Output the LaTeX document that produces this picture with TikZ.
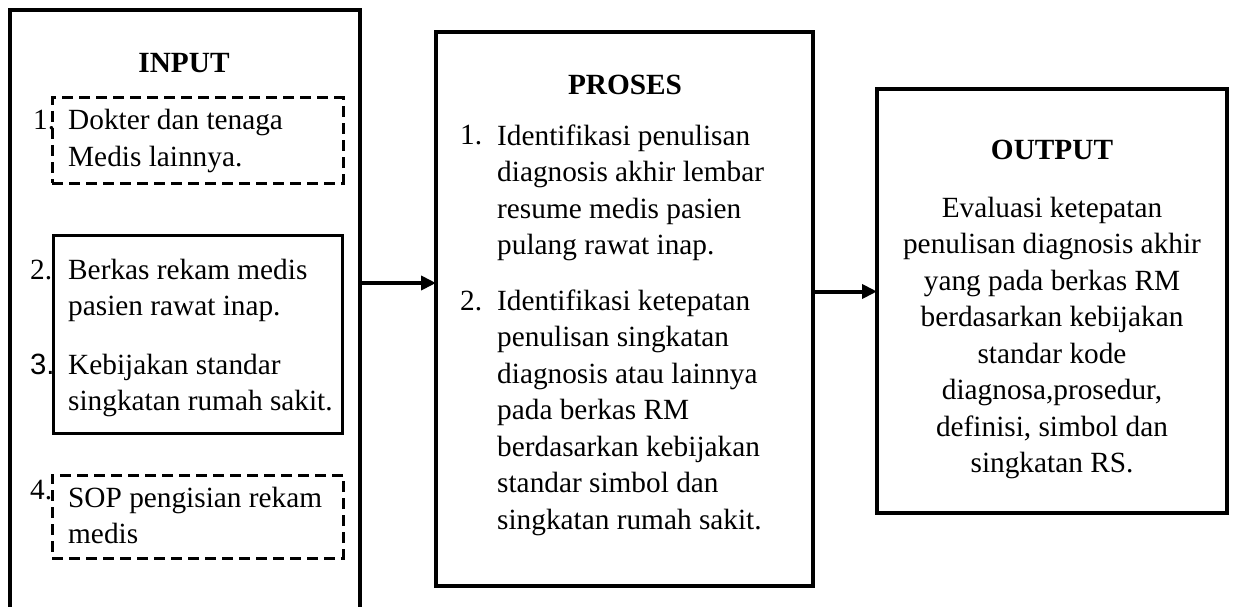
\documentclass[tikz,border=0pt]{standalone}
\usepackage{fontspec}
\setmainfont{Liberation Serif}
\newfontfamily\arialfont{Liberation Sans}
\usetikzlibrary{arrows.meta}

\begin{document}
\begin{tikzpicture}[x=1pt,y=-1pt]
    % Stili per i riquadri e i testi
    \tikzset{
        big_box/.style={
            draw=black, % Bordo visibile
            line width=3.5pt, % Bordo spesso
            inner sep=0pt,
            outer sep=0pt
        },
        dash_box/.style={
            draw=black,
            line width=3pt,
            dash pattern=on 11pt off 6pt, % Bordo tratteggiato
            inner sep=0pt,
            outer sep=0pt
        },
        plain_box/.style={
            draw=black,
            line width=3pt,
            inner sep=0pt,
            outer sep=0pt
        },
        box_title/.style={
            font=\fontsize{29.3}{36.5}\selectfont\bfseries, % Titolo in grassetto
            inner sep=0pt,
            anchor=base
        },
        item_num/.style={
            font=\fontsize{29.3}{36.5}\selectfont,
            inner sep=0pt,
            anchor=base west
        },
        item_text/.style={
            font=\fontsize{29.3}{36.5}\selectfont,
            inner sep=0pt,
            anchor=base west, % Linea di base dell'ultima riga
            align=left % Testo allineato a sinistra
        },
        flow_arrow/.style={
            -{Triangle[length=15pt,width=14pt]},
            line width=4pt
        }
    }

    \useasboundingbox (0,0) rectangle (1234,607);
    \clip (0,0) rectangle (1234,607);

    % Riquadri
    \node[big_box, minimum width=350pt, minimum height=620pt] (box_input) at (185,320) {};
    \node[dash_box, minimum width=291pt, minimum height=85pt] (box_in1) at (197.5,140.5) {};
    \node[plain_box, minimum width=289pt, minimum height=198pt] (box_in23) at (197.5,334) {};
    \node[dash_box, minimum width=291pt, minimum height=83pt] (box_in4) at (197.5,516.5) {};
    \node[big_box, minimum width=377pt, minimum height=554pt] (box_proses) at (624.5,309) {};
    \node[big_box, minimum width=350pt, minimum height=424pt] (box_output) at (1052,301) {};

    % INPUT
    \node[box_title] (title_input) at (184,73) {INPUT};
    \node[item_num] (num_in1) at (33,130) {1.};
    \node[item_text] (text_in1) at (68,166.5) {Dokter dan tenaga\\Medis lainnya.};
    \node[item_num] (num_in2) at (30,279) {2.};
    \node[item_text] (text_in2) at (68,315.5) {Berkas rekam medis\\pasien rawat inap.};
    \node[item_num, font=\fontsize{29.3}{36.5}\selectfont\arialfont] (num_in3) at (30,374) {3.};
    \node[item_text] (text_in3) at (68,410.5) {Kebijakan standar\\singkatan rumah sakit.};
    \node[item_num] (num_in4) at (30,499) {4.};
    \node[item_text] (text_in4) at (68,543.5) {SOP pengisian rekam\\medis};

    % PROSES
    \node[box_title] (title_proses) at (625,95) {PROSES};
    \node[item_num] (num_pr1) at (460,145) {1.};
    \node[item_text] (text_pr1) at (497,254.5) {Identifikasi penulisan\\diagnosis akhir lembar\\resume medis pasien\\pulang rawat inap.};
    \node[item_num] (num_pr2) at (460,310) {2.};
    \node[item_text] (text_pr2) at (497,529) {Identifikasi ketepatan\\penulisan singkatan\\diagnosis atau lainnya\\pada berkas RM\\berdasarkan kebijakan\\standar simbol dan\\singkatan rumah sakit.};

    % OUTPUT
    \node[box_title] (title_output) at (1052,160) {OUTPUT};
    \node[item_text, anchor=base, align=center] (text_output) at (1052,472.5) {Evaluasi ketepatan\\penulisan diagnosis akhir\\yang pada berkas RM\\berdasarkan kebijakan\\standar kode\\diagnosa,prosedur,\\definisi, simbol dan\\singkatan RS.};

    % Frecce
    \coordinate (level_a) at (0,283);
    \coordinate (level_b) at (0,291.5);
    \draw[flow_arrow] (box_input.east |- level_a) -- (box_proses.west |- level_a);
    \draw[flow_arrow] (box_proses.east |- level_b) -- (box_output.west |- level_b);

\end{tikzpicture}
\end{document}
